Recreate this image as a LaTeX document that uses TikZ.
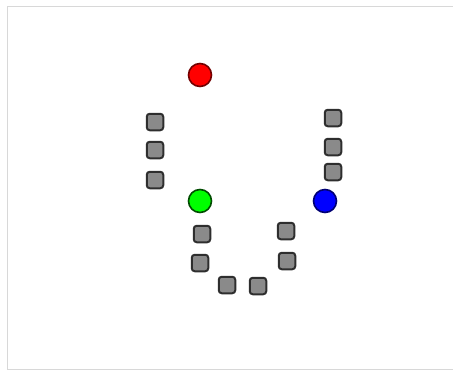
\documentclass[tikz,border=0pt]{standalone}
\usetikzlibrary{positioning}
\definecolor{sqfill}{HTML}{8A8A8A}
\definecolor{sqdraw}{HTML}{2E2E2E}
\definecolor{framegray}{HTML}{D8D8D8}
\tikzset{
  seg/.style={rectangle, rounded corners=3pt, draw=sqdraw, fill=sqfill, line width=2pt,
    minimum size=16.5pt, inner sep=0pt},
  joint/.style={circle, line width=1.6pt, minimum size=23pt, inner sep=0pt},
}
\begin{document}
\begin{tikzpicture}[x=1pt, y=-1pt]
  \useasboundingbox (0,0) rectangle (453,370);
  \draw[framegray, line width=1pt] (7,6.5) -- (455,6.5);
  \draw[framegray, line width=1pt] (7.5,6) -- (7.5,370);
  \draw[framegray, line width=1pt] (7,369) -- (455,369);
  % joints
  \node[joint, fill=red, draw=red!45!black] (top) at (200,75) {};
  \node[joint, fill=green, draw=green!30!black] (left) at (200,201) {};
  \node[joint, fill=blue, draw=blue!45!black] (right) at (325,201) {};
  % left column
  \node[seg] (l1) at (155,122) {};
  \node[seg] (l2) at (155,150) {};
  \node[seg] (l3) at (155,180) {};
  % right column
  \node[seg] (r1) at (333,118) {};
  \node[seg] (r2) at (333,147) {};
  \node[seg] (r3) at (333,172) {};
  % bottom curve
  \node[seg] (b1) at (202,234) {};
  \node[seg] (b2) at (200,263) {};
  \node[seg] (b3) at (227,285) {};
  \node[seg] (b4) at (258,286) {};
  \node[seg] (b5) at (287,261) {};
  \node[seg] (b6) at (286,231) {};
\end{tikzpicture}
\end{document}
